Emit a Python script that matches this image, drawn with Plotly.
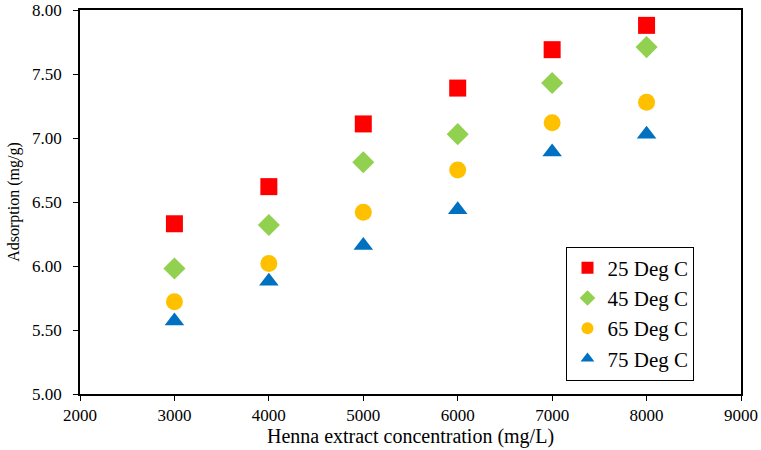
import plotly.graph_objects as go

conc = [3000, 4000, 5000, 6000, 7000, 8000]
s25 = [6.33, 6.62, 7.11, 7.39, 7.69, 7.88]
s45 = [5.98, 6.32, 6.81, 7.03, 7.43, 7.71]
s65 = [5.72, 6.02, 6.42, 6.75, 7.12, 7.28]
s75 = [5.57, 5.88, 6.16, 6.44, 6.89, 7.03]
names = ["25 Deg C", "45 Deg C", "65 Deg C", "75 Deg C"]
colors = ["#FF0000", "#92D050", "#FFC000", "#0070C0"]
symbols = ["square", "diamond", "circle", "triangle-up"]
sizes = [17, 17, 17, 17]

fig = go.Figure()
for i, (ys, nm) in enumerate(zip([s25, s45, s65, s75], names)):
    fig.add_trace(go.Scatter(
        x=conc, y=ys, mode="markers", name=nm, legendgroup=nm,
        marker=dict(symbol=symbols[i], color=colors[i], size=sizes[i], line=dict(width=0)),
    ))

font = "Liberation Serif, Times New Roman, serif"
fig.update_layout(
    width=761, height=450,
    margin=dict(l=80, r=20, t=10, b=56, autoexpand=False),
    paper_bgcolor="white", plot_bgcolor="white",
    font=dict(family=font, size=16, color="black"),
    showlegend=True,
    legend=dict(
        x=0.736, y=0.384, xanchor="left", yanchor="top",
        bordercolor="black", borderwidth=1, bgcolor="white",
        font=dict(family=font, size=21, color="black"),
        tracegroupgap=0, itemwidth=30, itemsizing="constant",
    ),
    xaxis=dict(
        range=[2000, 9000], dtick=1000, tick0=2000,
        showline=True, linecolor="black", linewidth=1.5, mirror=True,
        ticks="outside", ticklen=5, tickcolor="black",
        showgrid=False, zeroline=False, automargin=False,
        ticklabeloverflow="allow", tickfont=dict(size=17),
        title=dict(text="Henna extract concentration (mg/L)", font=dict(size=20), standoff=2),
    ),
    yaxis=dict(
        range=[5.0, 8.0], dtick=0.5, tickformat=".2f",
        showline=True, linecolor="black", linewidth=1.5, mirror=True,
        ticks="outside", ticklen=5, tickcolor="black",
        showgrid=False, zeroline=False, automargin=False,
        ticklabeloverflow="allow", ticklabelstandoff=8, tickfont=dict(size=17),
        title=dict(text="Adsorption (mg/g)", font=dict(size=16), standoff=8),
    ),
)
fig.write_html("out.html")
